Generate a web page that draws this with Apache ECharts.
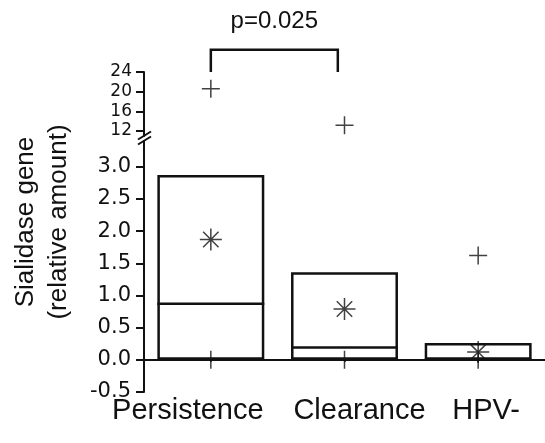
<!DOCTYPE html>
<html>
<head>
<meta charset="utf-8">
<script src="https://cdn.jsdelivr.net/npm/echarts@6/dist/echarts.min.js"></script>
<style>
  html, body { margin: 0; padding: 0; background: #fff; }
  #chart { width: 545px; height: 443px; }
</style>
</head>
<body>
<div id="chart"></div>
<script>
const categories = ['Persistence', 'Clearance', 'HPV-']
const boxTop = [2.87, 1.36, 0.26]
const medians = [0.87, 0.19, 0]
const means = [1.87, 0.79, 0.12]
const lowPlus = [[0, 0], [1, 0], [2, 0], [2, 1.62]]
const highPlus = [[0, 20.6], [1, 13.2]]
const lowTicks = [-0.5, 0, 0.5, 1, 1.5, 2, 2.5, 3]
const highTicks = [12, 16, 20, 24]
const pText = 'p=0.025'

const FONT = '"Liberation Sans", Arial, sans-serif'
const TICK_FONT = '"DejaVu Sans", sans-serif'
const INK = '#111'

const plusPath = 'path://M0,10L20,10M10,0L10,20'
const starPath = 'path://M0,10L20,10M10,0L10,20M3,3L17,17M3,17L17,3'

const chart = echarts.init(document.getElementById('chart'))

const yAxisCommon = {
  type: 'value',
  axisLine: { show: true, lineStyle: { color: INK, width: 2 } },
  axisTick: { show: true, length: 8, lineStyle: { color: INK, width: 2 } },
  axisLabel: { color: INK, fontFamily: TICK_FONT },
  splitLine: { show: false },
}

const option = {
  animation: false,
  backgroundColor: '#fff',
  grid: [
    { left: 144, right: 0, top: 72, height: 64 },
    { left: 144, right: 0, top: 141, height: 251 },
  ],
  xAxis: [
    { gridIndex: 0, type: 'category', data: categories, show: false },
    {
      gridIndex: 1,
      type: 'category',
      data: [
        { value: categories[0], textStyle: { padding: [0, 46, 0, 0] } },
        { value: categories[1], textStyle: { padding: [0, 0, 0, 30] } },
        { value: categories[2], textStyle: { padding: [0, 0, 0, 16] } },
      ],
      axisLine: { lineStyle: { color: INK, width: 2 } },
      axisTick: { show: true, alignWithLabel: true, length: 2, lineStyle: { color: INK, width: 2 } },
      axisLabel: { color: INK, fontSize: 29, fontFamily: FONT, margin: 4, interval: 0 },
    },
  ],
  yAxis: [
    {
      ...yAxisCommon,
      gridIndex: 0,
      min: 11,
      max: 24,
      axisTick: { ...yAxisCommon.axisTick, customValues: highTicks },
      axisLabel: { ...yAxisCommon.axisLabel, fontSize: 17, margin: 12, customValues: highTicks },
    },
    {
      ...yAxisCommon,
      gridIndex: 1,
      min: -0.5,
      max: 3.4,
      axisTick: { ...yAxisCommon.axisTick, customValues: lowTicks },
      axisLabel: {
        ...yAxisCommon.axisLabel,
        fontSize: 21,
        margin: 13,
        customValues: lowTicks,
        formatter: (v) => v.toFixed(1),
      },
    },
  ],
  series: [
    {
      type: 'bar',
      xAxisIndex: 1,
      yAxisIndex: 1,
      barWidth: '80%',
      data: boxTop,
      itemStyle: { color: '#fff', borderColor: INK, borderWidth: 2.5 },
      z: 2,
    },
    {
      type: 'custom',
      xAxisIndex: 1,
      yAxisIndex: 1,
      data: medians.map((m, i) => [i, m]),
      renderItem(params, api) {
        const p = api.coord([api.value(0), api.value(1)])
        const w = api.size([1, 0])[0] * 0.8
        return {
          type: 'line',
          shape: { x1: p[0] - w / 2, y1: p[1], x2: p[0] + w / 2, y2: p[1] },
          style: { stroke: INK, lineWidth: 2.5 },
        }
      },
      z: 3,
    },
    {
      type: 'scatter',
      xAxisIndex: 1,
      yAxisIndex: 1,
      symbol: starPath,
      symbolSize: 22,
      data: means.map((m, i) => [i, m]),
      itemStyle: { color: 'none', borderColor: INK, borderWidth: 1.5 },
      z: 4,
    },
    {
      type: 'scatter',
      xAxisIndex: 1,
      yAxisIndex: 1,
      symbol: plusPath,
      symbolSize: 18,
      data: lowPlus,
      itemStyle: { color: 'none', borderColor: INK, borderWidth: 1.5 },
      z: 4,
    },
    {
      type: 'scatter',
      xAxisIndex: 0,
      yAxisIndex: 0,
      symbol: plusPath,
      symbolSize: 18,
      data: highPlus,
      itemStyle: { color: 'none', borderColor: INK, borderWidth: 1.5 },
      z: 4,
    },
    {
      // significance bracket between Persistence and Clearance
      type: 'custom',
      xAxisIndex: 0,
      yAxisIndex: 0,
      clip: false,
      data: [[0, 1, 24, 28.5]],
      renderItem(params, api) {
        const band = api.size([1, 0])[0]
        const a = api.coord([api.value(0), api.value(2)])
        const b = api.coord([api.value(1), api.value(2)])
        const top = api.coord([api.value(0), api.value(3)])[1]
        const bx = b[0] - band * 0.05
        return {
          type: 'group',
          children: [
            {
              type: 'polyline',
              shape: { points: [[a[0], a[1]], [a[0], top], [bx, top], [bx, b[1]]] },
              style: { stroke: INK, lineWidth: 2.5, fill: null },
            },
            {
              type: 'text',
              style: {
                text: pText,
                x: (a[0] + bx) / 2,
                y: top - 28,
                align: 'center',
                verticalAlign: 'middle',
                font: '24px ' + FONT,
                fill: INK,
              },
            },
          ],
        }
      },
    },
  ],
}

chart.setOption(option)

// axis break marks and the y axis title
const ax = chart.convertToPixel({ gridIndex: 1 }, [0, 3.4])
const axisX = 144
const breakY = chart.convertToPixel({ yAxisIndex: 0 }, 11)
const yTop = chart.convertToPixel({ yAxisIndex: 0 }, 24)
const yBottom = chart.convertToPixel({ yAxisIndex: 1 }, -0.5)
const midBreak = (breakY + ax[1]) / 2
chart.setOption({
  graphic: [
    {
      type: 'line',
      shape: { x1: axisX - 6, y1: midBreak + 1, x2: axisX + 7, y2: midBreak - 7 },
      style: { stroke: INK, lineWidth: 2 },
    },
    {
      type: 'line',
      shape: { x1: axisX - 6, y1: midBreak + 6, x2: axisX + 7, y2: midBreak - 2 },
      style: { stroke: INK, lineWidth: 2 },
    },
    {
      type: 'text',
      x: 42,
      y: (yTop + yBottom) / 2 - 10,
      rotation: Math.PI / 2,
      style: {
        text: 'Sialidase gene\n(relative amount)',
        align: 'center',
        verticalAlign: 'middle',
        font: '26px ' + FONT,
        lineHeight: 33,
        fill: INK,
      },
    },
  ],
})
</script>
</body>
</html>
